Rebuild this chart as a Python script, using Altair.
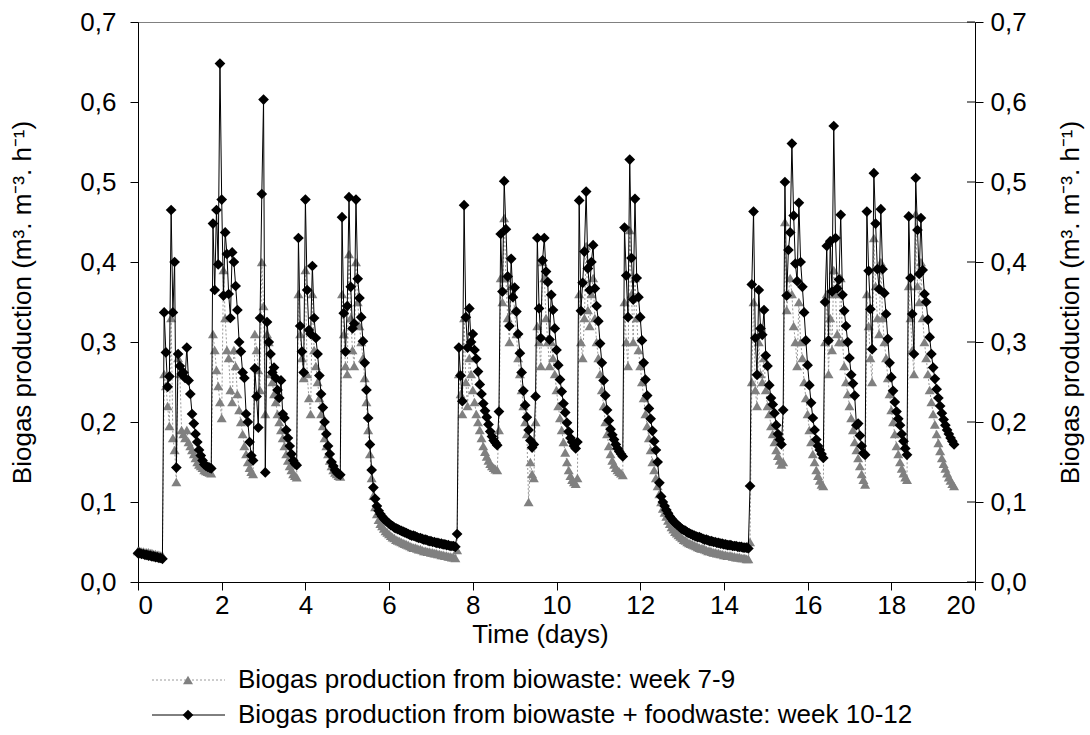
import altair as alt
import pandas as pd

# ---------------- data (hourly readings, values in m3.m-3.h-1) ----------------
black_week1 = [
    0.036, 0.036, 0.035, 0.035, 0.034, 0.034, 0.033, 0.033, 0.032, 0.032, 0.031, 0.031, 0.030, 0.030, 0.029,
    0.337, 0.287, 0.244, 0.257, 0.465, 0.337, 0.400, 0.143, 0.285, 0.270, 0.260, 0.262,
    0.255, 0.293, 0.252, 0.235, 0.210, 0.198, 0.185, 0.175, 0.165, 0.158, 0.152, 0.147,
    0.145, 0.144, 0.143, 0.142,
    0.448, 0.365, 0.465, 0.397, 0.648, 0.478, 0.358, 0.437, 0.410, 0.360, 0.330, 0.412,
    0.400, 0.370, 0.340, 0.300, 0.288, 0.262, 0.255, 0.210, 0.200, 0.175, 0.158, 0.152,
    0.267, 0.232, 0.193, 0.330, 0.485, 0.603, 0.137, 0.325, 0.300, 0.285, 0.262, 0.268,
    0.255, 0.240, 0.230, 0.252, 0.210, 0.205, 0.190, 0.180, 0.170, 0.160, 0.152, 0.148, 0.146,
    0.430, 0.320, 0.288, 0.262, 0.478, 0.365, 0.315, 0.310, 0.395, 0.330, 0.305, 0.285,
    0.258, 0.235, 0.218, 0.200, 0.185, 0.170, 0.160, 0.150, 0.145, 0.140, 0.137, 0.135, 0.134,
    0.456, 0.336, 0.288, 0.345, 0.481, 0.369, 0.317, 0.323, 0.478, 0.379, 0.355, 0.331,
    0.301, 0.274, 0.240, 0.205, 0.172, 0.140,
    0.118, 0.104, 0.095, 0.089, 0.085, 0.082, 0.079, 0.077, 0.075, 0.073, 0.071, 0.070,
    0.068, 0.067, 0.066, 0.065, 0.064, 0.063, 0.062, 0.061, 0.060, 0.059, 0.058, 0.058,
    0.057, 0.056, 0.055, 0.055, 0.054, 0.053, 0.053, 0.052, 0.051, 0.051, 0.050, 0.050,
    0.049, 0.049, 0.048, 0.048, 0.047, 0.047, 0.046, 0.046, 0.045, 0.045, 0.045, 0.044,
]
grey_week1 = [
    0.039, 0.039, 0.038, 0.038, 0.037, 0.037, 0.037, 0.036, 0.036, 0.035, 0.035, 0.034, 0.034, 0.033, 0.033,
    0.260, 0.245, 0.220, 0.195, 0.330, 0.180, 0.165, 0.125, 0.280, 0.260, 0.190, 0.185,
    0.180, 0.190, 0.175, 0.170, 0.165, 0.160, 0.155, 0.150, 0.147, 0.145, 0.143, 0.140,
    0.139, 0.138, 0.137, 0.136,
    0.310, 0.290, 0.265, 0.245, 0.225, 0.205, 0.390, 0.330, 0.290, 0.280, 0.240, 0.225,
    0.290, 0.270, 0.235, 0.215, 0.200, 0.185, 0.170, 0.160, 0.150, 0.143, 0.138, 0.135,
    0.310, 0.290, 0.265, 0.240, 0.400, 0.345, 0.210, 0.310, 0.300, 0.260, 0.250, 0.235,
    0.225, 0.210, 0.200, 0.190, 0.180, 0.170, 0.160, 0.152, 0.145, 0.140, 0.135, 0.133, 0.131,
    0.360, 0.310, 0.280, 0.255, 0.390, 0.260, 0.230, 0.210, 0.360, 0.290, 0.270, 0.250,
    0.230, 0.210, 0.195, 0.180, 0.170, 0.160, 0.152, 0.145, 0.140, 0.137, 0.135, 0.133, 0.132,
    0.360, 0.310, 0.270, 0.260, 0.410, 0.330, 0.290, 0.270, 0.400, 0.350, 0.320, 0.300,
    0.280, 0.255, 0.225, 0.190, 0.160, 0.130,
    0.108, 0.094, 0.085, 0.078, 0.073, 0.070, 0.067, 0.064, 0.062, 0.060, 0.058, 0.056,
    0.055, 0.053, 0.052, 0.051, 0.050, 0.049, 0.048, 0.047, 0.046, 0.045, 0.044, 0.043,
    0.043, 0.042, 0.041, 0.041, 0.040, 0.039, 0.039, 0.038, 0.038, 0.037, 0.037, 0.036,
    0.036, 0.035, 0.035, 0.034, 0.034, 0.033, 0.033, 0.032, 0.032, 0.031, 0.031, 0.030,
]
black_week2 = [
    0.060, 0.293, 0.258, 0.226, 0.471, 0.331, 0.293, 0.342, 0.300, 0.310, 0.290, 0.279,
    0.263, 0.247, 0.235, 0.223, 0.214, 0.206, 0.197, 0.188, 0.182, 0.177, 0.174, 0.171,
    0.213, 0.435, 0.363, 0.501, 0.441, 0.382, 0.320, 0.404, 0.356, 0.368, 0.338, 0.310,
    0.286, 0.262, 0.239, 0.221, 0.206, 0.190, 0.177, 0.168,
    0.172, 0.232, 0.430, 0.342, 0.305, 0.402, 0.430, 0.388, 0.375, 0.303, 0.359, 0.340,
    0.317, 0.290, 0.271, 0.253, 0.238, 0.223, 0.212, 0.199, 0.188, 0.180, 0.175, 0.170, 0.167,
    0.175, 0.477, 0.339, 0.374, 0.413, 0.488, 0.392, 0.365, 0.400, 0.421, 0.367, 0.345,
    0.326, 0.298, 0.274, 0.252, 0.233, 0.215, 0.202, 0.191, 0.184, 0.178, 0.172, 0.167,
    0.163, 0.160, 0.157,
    0.443, 0.383, 0.331, 0.528, 0.405, 0.353, 0.479, 0.380, 0.356, 0.331, 0.302, 0.274,
    0.253, 0.233, 0.217, 0.204, 0.189, 0.176, 0.165, 0.150, 0.124, 0.107, 0.100, 0.095,
    0.090, 0.086, 0.082, 0.079, 0.076, 0.074, 0.072, 0.070, 0.068, 0.066, 0.065, 0.064,
    0.062, 0.061, 0.060, 0.059, 0.058, 0.057, 0.056, 0.056, 0.055, 0.054, 0.053, 0.053,
    0.052, 0.051, 0.051, 0.050, 0.050, 0.049, 0.049, 0.048, 0.048, 0.047, 0.047, 0.046,
    0.046, 0.046, 0.045, 0.045, 0.045, 0.044, 0.044, 0.044, 0.043, 0.043, 0.043, 0.042,
]
grey_week2 = [
    0.040, 0.260, 0.235, 0.210, 0.330, 0.250, 0.220, 0.280, 0.260, 0.240, 0.225, 0.210,
    0.200, 0.190, 0.180, 0.170, 0.163, 0.157, 0.152, 0.148, 0.145, 0.143, 0.141, 0.140,
    0.190, 0.380, 0.350, 0.455, 0.380, 0.330, 0.300, 0.370, 0.360, 0.340, 0.310, 0.280,
    0.260, 0.240, 0.220, 0.200, 0.185, 0.100, 0.150, 0.135,
    0.130, 0.200, 0.320, 0.300, 0.270, 0.400, 0.380, 0.330, 0.300, 0.270, 0.300, 0.280,
    0.260, 0.240, 0.220, 0.205, 0.190, 0.175, 0.162, 0.150, 0.140, 0.133, 0.128, 0.125, 0.123,
    0.130, 0.360, 0.300, 0.280, 0.330, 0.420, 0.340, 0.320, 0.360, 0.380, 0.330, 0.300,
    0.280, 0.260, 0.240, 0.220, 0.200, 0.185, 0.170, 0.160, 0.152, 0.147, 0.143, 0.140,
    0.138, 0.136, 0.134,
    0.350, 0.300, 0.270, 0.440, 0.360, 0.300, 0.380, 0.330, 0.290, 0.270, 0.250, 0.230,
    0.210, 0.195, 0.180, 0.165, 0.150, 0.140, 0.130, 0.120, 0.110, 0.100, 0.092, 0.087,
    0.082, 0.077, 0.073, 0.069, 0.066, 0.063, 0.061, 0.059, 0.057, 0.055, 0.053, 0.052,
    0.050, 0.049, 0.048, 0.047, 0.046, 0.045, 0.044, 0.043, 0.042, 0.042, 0.041, 0.040,
    0.039, 0.039, 0.038, 0.037, 0.037, 0.036, 0.036, 0.035, 0.035, 0.034, 0.034, 0.033,
    0.033, 0.033, 0.032, 0.032, 0.031, 0.031, 0.031, 0.030, 0.030, 0.030, 0.029, 0.029,
]
black_week3 = [
    0.120, 0.372, 0.463, 0.305, 0.259, 0.365, 0.317, 0.309, 0.340, 0.283, 0.270, 0.246,
    0.230, 0.222, 0.211, 0.196, 0.185, 0.178, 0.172,
    0.215, 0.500, 0.358, 0.415, 0.437, 0.548, 0.458, 0.398, 0.376, 0.474, 0.400, 0.369,
    0.337, 0.302, 0.271, 0.246, 0.224, 0.205, 0.190, 0.178, 0.170, 0.165, 0.160, 0.155,
    0.350, 0.420, 0.302, 0.426, 0.363, 0.570, 0.430, 0.367, 0.378, 0.459, 0.359, 0.339,
    0.320, 0.300, 0.280, 0.259, 0.248, 0.233, 0.196, 0.198, 0.183, 0.170, 0.161, 0.159,
    0.463, 0.389, 0.341, 0.291, 0.511, 0.448, 0.391, 0.366, 0.466, 0.391, 0.361, 0.335,
    0.304, 0.274, 0.256, 0.239, 0.225, 0.213, 0.204, 0.196, 0.185, 0.176, 0.167, 0.159,
    0.457, 0.380, 0.335, 0.285, 0.505, 0.440, 0.385, 0.455, 0.390, 0.360, 0.350, 0.328,
    0.306, 0.285, 0.268, 0.254, 0.241, 0.230, 0.220, 0.211, 0.203, 0.196, 0.190, 0.185,
    0.180, 0.176, 0.172,
]
grey_week3 = [
    0.050, 0.250, 0.350, 0.240, 0.220, 0.300, 0.260, 0.250, 0.280, 0.240, 0.220, 0.210,
    0.195, 0.185, 0.175, 0.165, 0.158, 0.152, 0.147,
    0.150, 0.450, 0.340, 0.360, 0.380, 0.360, 0.320, 0.300, 0.270, 0.350, 0.300, 0.280,
    0.250, 0.230, 0.210, 0.190, 0.175, 0.160, 0.150, 0.140, 0.133, 0.127, 0.122, 0.120,
    0.300, 0.360, 0.260, 0.330, 0.290, 0.390, 0.360, 0.310, 0.300, 0.380, 0.300, 0.270,
    0.250, 0.235, 0.220, 0.205, 0.190, 0.175, 0.165, 0.155, 0.145, 0.135, 0.128, 0.122,
    0.360, 0.320, 0.280, 0.250, 0.430, 0.370, 0.330, 0.310, 0.400, 0.330, 0.300, 0.280,
    0.255, 0.235, 0.215, 0.200, 0.185, 0.170, 0.160, 0.150, 0.142, 0.136, 0.131, 0.128,
    0.370, 0.330, 0.290, 0.260, 0.460, 0.370, 0.350, 0.400, 0.330, 0.300, 0.280, 0.260,
    0.240, 0.225, 0.210, 0.197, 0.185, 0.174, 0.164, 0.155, 0.148, 0.142, 0.136, 0.131,
    0.127, 0.123, 0.120,
]

x_ticks = [0, 2, 4, 6, 8, 10, 12, 14, 16, 18, 20]
y_ticks = [0.0, 0.1, 0.2, 0.3, 0.4, 0.5, 0.6, 0.7]
legend_grey = "Biogas production from biowaste: week 7-9"
legend_black = "Biogas production from biowaste + foodwaste: week 10-12"
y_title = "Biogas production (m³. m⁻³. h⁻¹)"
x_title = "Time (days)"

# ---------------- tables ----------------
black_vals = black_week1 + black_week2 + black_week3
grey_vals = grey_week1 + grey_week2 + grey_week3
df_black = pd.DataFrame({"day": [h / 24 for h in range(len(black_vals))], "v": black_vals})
df_grey = pd.DataFrame({"day": [h / 24 for h in range(len(grey_vals))], "v": grey_vals})
df_ticks = pd.DataFrame({"t": y_ticks})

FONT = "Liberation Sans"
FS = 26
W, H = 837, 560
LABEL_EXPR = "replace(format(datum.value, '.1f'), '.', ',')"

x_enc = alt.X(
    "day:Q",
    scale=alt.Scale(domain=[0, 20], nice=False, zero=False),
    axis=alt.Axis(
        values=x_ticks, title=x_title, grid=False, domainColor="black", tickColor="black",
        tickSize=8, labelPadding=2, labelFont=FONT, labelFontSize=FS, labelColor="black",
        titleFont=FONT, titleFontSize=FS, titleFontWeight="normal", titleColor="black",
        titleX=402, titleY=52, titleBaseline="middle",
    ),
)
y_enc = alt.Y(
    "v:Q",
    scale=alt.Scale(domain=[0, 0.7], nice=False),
    axis=alt.Axis(
        orient="left", values=y_ticks, labelExpr=LABEL_EXPR, title=y_title, grid=False,
        domainColor="black", tickColor="black", tickSize=8, labelPadding=14,
        labelFont=FONT, labelFontSize=FS, labelColor="black",
        titleFont=FONT, titleFontSize=FS, titleFontWeight="normal", titleColor="black",
        titleX=-116, titleY=H / 2, titleAngle=270, titleAlign="center", titleBaseline="middle",
    ),
)

grey_base = alt.Chart(df_grey).encode(x=x_enc, y=y_enc)
black_base = alt.Chart(df_black).encode(x=x_enc, y=y_enc)

grey_line = grey_base.mark_line(color="#9a9a9a", strokeWidth=1, strokeDash=[2, 2])
grey_pts = grey_base.mark_point(shape="triangle-up", filled=True, color="#808080", size=100, opacity=1)
black_line = black_base.mark_line(color="black", strokeWidth=1)
black_pts = black_base.mark_point(shape="diamond", filled=True, color="black", size=115, opacity=1)

main = alt.layer(grey_line, grey_pts, black_line, black_pts)

right_axis = alt.Chart(df_ticks).mark_rule(color="black", strokeWidth=1).encode(
    y=alt.Y(
        "t:Q",
        scale=alt.Scale(domain=[0, 0.7], nice=False),
        axis=alt.Axis(
            orient="right", values=y_ticks, labelExpr=LABEL_EXPR, title=y_title, grid=False,
            domainColor="black", tickColor="black", tickSize=8, labelPadding=7,
            labelFont=FONT, labelFontSize=FS, labelColor="black",
            titleFont=FONT, titleFontSize=FS, titleFontWeight="normal", titleColor="black",
            titleX=95, titleY=H / 2, titleAngle=270, titleAlign="center", titleBaseline="middle",
        ),
    ),
    x=alt.value(W - 8),
    x2=alt.value(W),
)

# legend (below the plot)
leg_df_g = pd.DataFrame({"label": [legend_grey]})
leg_df_b = pd.DataFrame({"label": [legend_black]})
LY1, LY2 = 658, 693
leg_g_line = alt.Chart(leg_df_g).mark_rule(color="#9a9a9a", strokeWidth=1, strokeDash=[2, 2]).encode(
    x=alt.value(14), x2=alt.value(87), y=alt.value(LY1))
leg_g_pt = alt.Chart(leg_df_g).mark_point(shape="triangle-up", filled=True, color="#808080", size=100, opacity=1).encode(
    x=alt.value(50), y=alt.value(LY1))
leg_g_txt = alt.Chart(leg_df_g).mark_text(align="left", baseline="middle", font=FONT, fontSize=FS, color="black").encode(
    x=alt.value(100), y=alt.value(LY1), text="label:N")
leg_b_line = alt.Chart(leg_df_b).mark_rule(color="black", strokeWidth=1).encode(
    x=alt.value(14), x2=alt.value(87), y=alt.value(LY2))
leg_b_pt = alt.Chart(leg_df_b).mark_point(shape="diamond", filled=True, color="black", size=115, opacity=1).encode(
    x=alt.value(50), y=alt.value(LY2))
leg_b_txt = alt.Chart(leg_df_b).mark_text(align="left", baseline="middle", font=FONT, fontSize=FS, color="black").encode(
    x=alt.value(100), y=alt.value(LY2), text="label:N")

chart = (
    alt.layer(main, right_axis, leg_g_line, leg_g_pt, leg_g_txt, leg_b_line, leg_b_pt, leg_b_txt)
    .resolve_scale(y="independent")
    .properties(
        width=W, height=H,
        autosize=alt.AutoSizeParams(type="none"),
        padding={"left": 138, "top": 22, "right": 115, "bottom": 153},
        background="white",
    )
    .configure_view(stroke="#808080", strokeWidth=1)
)

chart.save("out.html", embed_options={"renderer": "svg", "actions": False})
